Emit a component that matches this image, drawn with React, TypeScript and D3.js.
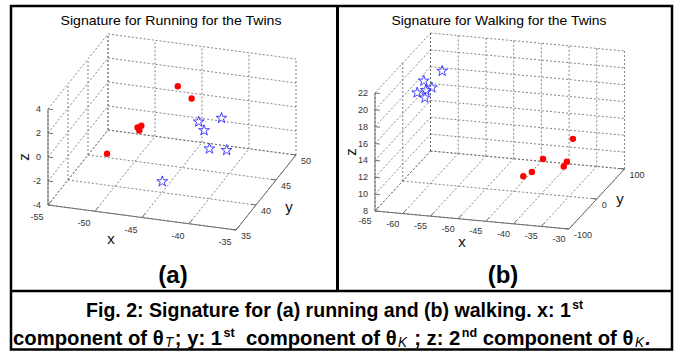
import React, { useEffect, useRef } from 'react';
import * as d3 from 'd3';

// (a) running: red circles / blue stars, 3D coords
const runRedX = [-46.3, -44.4, -48.9, -49.3, -48.9, -51.7];
const runRedY = [47, 46, 44, 44, 43.5, 42];
const runRedZ = [1.8, 1.4, -0.5, -0.7, -0.7, -2.3];
const runBlueX = [-41.1, -39.1, -40.1, -39.1, -37.7, -43.7];
const runBlueY = [40, 41, 39, 38, 39, 37];
const runBlueZ = [2.3, 2.4, 2.1, 1.1, 0.7, -1.7];

// (b) walking
const walkRedX = [-35.3, -41.2, -35.4, -35.7, -42.2, -43.5];
const walkRedY = [20, 30, 0, -5, 10, 5];
const walkRedZ = [14.1, 11.0, 12.1, 11.7, 10.1, 9.7];
const walkBlueX = [-62.4, -64.7, -63.5, -64.9, -64.0, -64.1];
const walkBlueY = [90, 70, 75, 50, 60, 65];
const walkBlueZ = [18.0, 17.4, 16.5, 16.7, 15.8, 16.5];

const runXTicks = [-55, -50, -45, -40, -35];
const runYTicks = [35, 40, 45, 50];
const runZTicks = [-4, -2, 0, 2, 4];
const walkXTicks = [-65, -60, -55, -50, -45, -40, -35, -30];
const walkYTicks = [-100, 0, 100];
const walkZTicks = [8, 10, 12, 14, 16, 18, 20, 22];

const FONT = 'Liberation Sans, Arial, Helvetica, sans-serif';

const zip = (xs, ys, zs) => xs.map((x, i) => [x, ys[i], zs[i]]);

const panels = [
  {
    title: 'Signature for Running for the Twins', titleX: 171, titleLen: 221,
    xTicks: runXTicks, yTicks: runYTicks, zTicks: runZTicks,
    o: [48, 205], ex: [188, 25], ey: [60, -75], ez: [0, -96],
    xOff: [-11, 15], xLab: [111, 244], yLab: [289, 212], zLab: [29, 157],
    red: zip(runRedX, runRedY, runRedZ), blue: zip(runBlueX, runBlueY, runBlueZ),
    sub: '(a)', subX: 173,
  },
  {
    title: 'Signature for Walking for the Twins', titleX: 499, titleLen: 215,
    xTicks: walkXTicks, yTicks: walkYTicks, zTicks: walkZTicks,
    o: [375, 211], ex: [194, 18], ey: [55.5, -60], ez: [0, -118],
    xOff: [-10, 13], xLab: [462, 247], yLab: [620, 204], zLab: [356, 152],
    red: zip(walkRedX, walkRedY, walkRedZ), blue: zip(walkBlueX, walkBlueY, walkBlueZ),
    sub: '(b)', subX: 503,
  },
];

function drawPanel(g, p) {
  const xd = d3.extent(p.xTicks), yd = d3.extent(p.yTicks), zd = d3.extent(p.zTicks);
  const sx = d3.scaleLinear().domain(xd).range([0, 1]);
  const sy = d3.scaleLinear().domain(yd).range([0, 1]);
  const sz = d3.scaleLinear().domain(zd).range([0, 1]);
  const proj = (x, y, z) => {
    const a = sx(x), b = sy(y), c = sz(z);
    return [p.o[0] + a * p.ex[0] + b * p.ey[0] + c * p.ez[0],
            p.o[1] + a * p.ex[1] + b * p.ey[1] + c * p.ez[1]];
  };
  const [x0, x1] = xd, [y0, y1] = yd, [z0, z1] = zd;
  const unit = (v, len) => { const n = Math.hypot(v[0], v[1]); return [v[0] / n * len, v[1] / n * len]; };

  const grid = [];
  p.xTicks.forEach(x => grid.push([proj(x, y0, z0), proj(x, y1, z0)]));
  p.yTicks.forEach(y => grid.push([proj(x0, y, z0), proj(x1, y, z0)]));
  p.xTicks.forEach(x => grid.push([proj(x, y1, z0), proj(x, y1, z1)]));
  p.zTicks.forEach(z => grid.push([proj(x0, y1, z), proj(x1, y1, z)]));
  p.yTicks.forEach(y => grid.push([proj(x0, y, z0), proj(x0, y, z1)]));
  p.zTicks.forEach(z => grid.push([proj(x0, y0, z), proj(x0, y1, z)]));

  const line = d3.line();
  g.selectAll('.grid').data(grid).enter().append('path')
    .attr('d', d => line(d))
    .attr('fill', 'none').attr('stroke', '#666').attr('stroke-width', 0.8)
    .attr('stroke-dasharray', '2,2');

  const axes = [
    [proj(x0, y0, z0), proj(x1, y0, z0)],
    [proj(x1, y0, z0), proj(x1, y1, z0)],
    [proj(x0, y0, z0), proj(x0, y0, z1)],
  ];
  const tx = unit(p.ey, 5), tz = unit(p.ex, 5), ty = unit(p.ex, -5);
  p.xTicks.forEach(x => { const a = proj(x, y0, z0); axes.push([a, [a[0] + tx[0], a[1] + tx[1]]]); });
  p.yTicks.forEach(y => { const a = proj(x1, y, z0); axes.push([a, [a[0] + ty[0], a[1] + ty[1]]]); });
  p.zTicks.forEach(z => { const a = proj(x0, y0, z); axes.push([a, [a[0] + tz[0], a[1] + tz[1]]]); });
  g.selectAll('.axis').data(axes).enter().append('path')
    .attr('d', d => line(d))
    .attr('fill', 'none').attr('stroke', '#707070').attr('stroke-width', 1);

  const tick = g.append('g').attr('font-family', FONT).attr('font-size', 9).attr('fill', '#333');
  p.xTicks.forEach(x => {
    const a = proj(x, y0, z0);
    tick.append('text').attr('x', a[0] + p.xOff[0]).attr('y', a[1] + p.xOff[1])
      .attr('text-anchor', 'middle').text(x);
  });
  p.yTicks.forEach(y => {
    const a = proj(x1, y, z0);
    tick.append('text').attr('x', a[0] + 5).attr('y', a[1] + 8.5).text(y);
  });
  p.zTicks.forEach(z => {
    const a = proj(x0, y0, z);
    tick.append('text').attr('x', a[0] - 7).attr('y', a[1] + 3)
      .attr('text-anchor', 'end').text(z);
  });

  const lab = g.append('g').attr('font-family', FONT).attr('font-size', 15).attr('fill', '#111');
  lab.append('text').attr('x', p.xLab[0]).attr('y', p.xLab[1]).attr('text-anchor', 'middle').text('x');
  lab.append('text').attr('x', p.yLab[0]).attr('y', p.yLab[1]).attr('text-anchor', 'middle').text('y');
  lab.append('text').attr('transform', `translate(${p.zLab[0]},${p.zLab[1]}) rotate(-90)`)
    .attr('text-anchor', 'middle').text('z');

  g.append('text').attr('x', p.titleX).attr('y', 25).attr('text-anchor', 'middle')
    .attr('font-family', FONT).attr('font-size', 13).attr('fill', '#000')
    .attr('textLength', p.titleLen).attr('lengthAdjust', 'spacingAndGlyphs')
    .text(p.title);

  const star = d3.symbol().type(d3.symbolStar).size(36);
  g.selectAll('.star').data(p.blue).enter().append('path')
    .attr('transform', d => { const a = proj(d[0], d[1], d[2]); return `translate(${a[0]},${a[1]})`; })
    .attr('d', star()).attr('fill', 'none').attr('stroke', '#3030ff').attr('stroke-width', 0.9);
  g.selectAll('.dot').data(p.red).enter().append('circle')
    .attr('cx', d => proj(d[0], d[1], d[2])[0])
    .attr('cy', d => proj(d[0], d[1], d[2])[1])
    .attr('r', 3.2).attr('fill', '#ff0000');

  g.append('text').attr('x', p.subX).attr('y', 283).attr('text-anchor', 'middle')
    .attr('font-family', FONT).attr('font-weight', 'bold').attr('font-size', 24)
    .attr('fill', '#000').text(p.sub);
}

export default function App() {
  const ref = useRef(null);
  useEffect(() => {
    const svg = d3.select(ref.current);
    svg.selectAll('*').remove();
    svg.append('rect').attr('width', 678).attr('height', 352).attr('fill', '#fff');
    panels.forEach(p => drawPanel(svg.append('g'), p));

    const frame = svg.append('g').attr('stroke', '#000').attr('stroke-width', 2.5).attr('fill', 'none');
    frame.append('rect').attr('x', 11).attr('y', 6).attr('width', 661).attr('height', 343.5);
    frame.append('line').attr('x1', 11).attr('x2', 672).attr('y1', 291).attr('y2', 291);
    frame.append('line').attr('x1', 337.5).attr('x2', 337.5).attr('y1', 6).attr('y2', 291).attr('stroke-width', 3);

    // caption: Arial-like bold squeezed to a narrow width
    const cap = svg.append('g').attr('font-family', FONT).attr('font-weight', 'bold').attr('fill', '#000');
    const l1 = cap.append('text').attr('x', 86).attr('y', 317).attr('font-size', 21)
      .attr('textLength', 497).attr('lengthAdjust', 'spacingAndGlyphs');
    l1.append('tspan').text('Fig. 2: Signature for (a) running and (b) walking. x: 1');
    l1.append('tspan').attr('font-size', 13).attr('dx', 1.5).attr('dy', -8).text('st');

    const l2 = cap.append('text').attr('x', 13).attr('y', 345).attr('font-size', 21)
      .attr('textLength', 638).attr('lengthAdjust', 'spacingAndGlyphs');
    const sub = (t) => l2.append('tspan').attr('font-size', 14).attr('font-style', 'italic')
      .attr('font-weight', 'normal').attr('dx', 1.5).attr('dy', 2).text(t);
    const sup = (t) => l2.append('tspan').attr('font-size', 13).attr('dx', 1.5).attr('dy', -8).text(t);
    l2.append('tspan').text('component of \u03B8');
    sub('T');
    l2.append('tspan').attr('dx', 1.5).attr('dy', -2).text('; y: 1');
    sup('st');
    l2.append('tspan').attr('dy', 8).text('\u00A0 component of \u03B8');
    sub('K');
    l2.append('tspan').attr('dx', 1.5).attr('dy', -2).text(' ; z: 2');
    sup('nd');
    l2.append('tspan').attr('dy', 8).text(' component of \u03B8');
    sub('K');
    l2.append('tspan').attr('font-style', 'italic').attr('dx', 1.5).attr('dy', -2).text('.');
  }, []);
  return (
    <svg ref={ref} width={678} height={352}
      style={{ position: 'absolute', left: 0, top: 0, display: 'block' }} />
  );
}
